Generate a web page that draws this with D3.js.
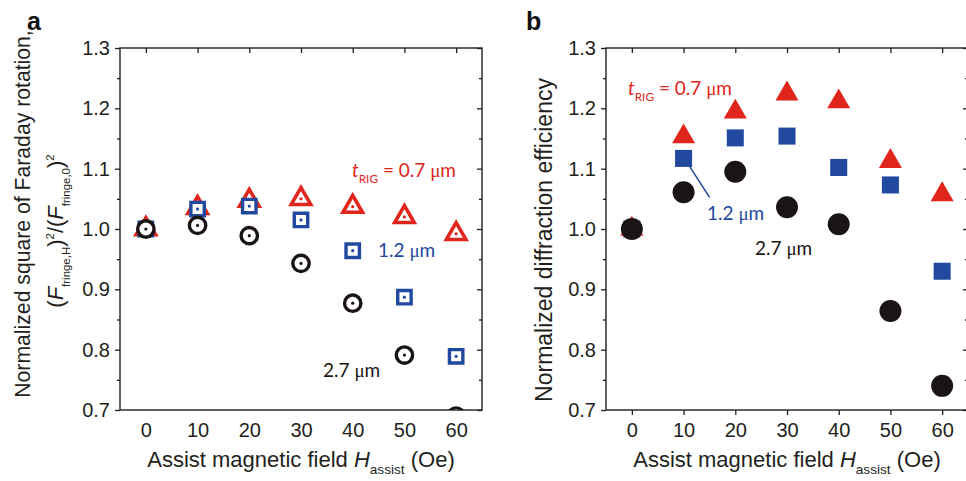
<!DOCTYPE html>
<html>
<head>
<meta charset="utf-8">
<script src="https://cdn.jsdelivr.net/npm/d3@7"></script>
<style>
body { margin: 0; background: #fff; }
svg { display: block; }
</style>
</head>
<body>
<div id="chart"></div>
<script>
var fieldOe = [0, 10, 20, 30, 40, 50, 60];
var xTicks = [0, 10, 20, 30, 40, 50, 60];
var yTicks = [0.7, 0.8, 0.9, 1.0, 1.1, 1.2, 1.3];
var yMinor = [0.75, 0.85, 0.95, 1.05, 1.15, 1.25];

// panel a: normalized square of Faraday rotation
var faraday07 = [1.0, 1.035, 1.047, 1.05, 1.037, 1.02, 0.992];
var faraday12 = [1.0, 1.033, 1.038, 1.015, 0.964, 0.887, 0.789];
var faraday27 = [1.0, 1.006, 0.989, 0.943, 0.877, 0.791, 0.69];

// panel b: normalized diffraction efficiency
var diffr07 = [1.0, 1.153, 1.194, 1.224, 1.211, 1.112, 1.057];
var diffr12 = [1.0, 1.117, 1.151, 1.154, 1.102, 1.073, 0.930];
var diffr27 = [1.0, 1.061, 1.095, 1.036, 1.008, 0.864, 0.740];

var red = "#e0251c", blue = "#2249a0", black = "#1a1414", axisCol = "#231f20";
var sans = "'Liberation Sans', Arial, sans-serif";
var labelFont = "Lato, 'Open Sans', sans-serif";
var titleSize = 22;

var W = 966, H = 481;
var svg = d3.select("#chart").append("svg").attr("width", W).attr("height", H);
svg.append("rect").attr("width", W).attr("height", H).attr("fill", "#fff");

// text with sub/superscripts, parts: {t, sub, sup, it, font, back}
function rich(sel, parts, fs, scale) {
    scale = scale || 0.62;
    parts.forEach(function(p) {
        var ts = sel.append("tspan").text(p.t);
        if (p.it) ts.style("font-style", "italic");
        if (p.font) ts.style("font-family", p.font);
        if (p.sub) ts.attr("dy", fs * 0.32).style("font-size", (fs * scale) + "px");
        if (p.sup) ts.attr("dy", -fs * 0.42).style("font-size", (fs * scale) + "px");
        if (p.back) ts.attr("dy", p.back * fs);
    });
    return sel;
}

function panel(o) {
    var x = d3.scaleLinear().domain([-5, 65]).range([o.left, o.right]);
    var y = d3.scaleLinear().domain([0.7, 1.3]).range([410, 48]);
    var g = svg.append("g");

    g.append("clipPath").attr("id", "clip" + o.id)
        .append("rect")
        .attr("x", o.left).attr("y", 48)
        .attr("width", o.right - o.left).attr("height", 362);

    function styleAxis(a) {
        a.select(".domain").remove();
        a.selectAll("line").attr("stroke", axisCol).attr("stroke-width", 1.3);
        a.selectAll("text").attr("fill", axisCol)
            .style("font-family", sans).style("font-size", "20px");
    }

    // left
    g.append("g").attr("transform", "translate(" + o.left + ",0)")
        .call(d3.axisLeft(y).tickValues(yTicks).tickSize(5).tickPadding(5).tickFormat(d3.format(".1f")))
        .call(styleAxis);
    g.append("g").attr("transform", "translate(" + o.left + ",0)")
        .call(d3.axisLeft(y).tickValues(yMinor).tickSize(3).tickFormat(""))
        .call(styleAxis);
    // right (inward)
    g.append("g").attr("transform", "translate(" + o.right + ",0)")
        .call(d3.axisLeft(y).tickValues(yTicks).tickSize(5).tickFormat(""))
        .call(styleAxis);
    g.append("g").attr("transform", "translate(" + o.right + ",0)")
        .call(d3.axisLeft(y).tickValues(yMinor).tickSize(3).tickFormat(""))
        .call(styleAxis);
    // top (inward)
    g.append("g").attr("transform", "translate(0,48)")
        .call(d3.axisBottom(x).tickValues(xTicks).tickSize(5).tickFormat(""))
        .call(styleAxis);
    // bottom
    g.append("g").attr("transform", "translate(0,410)")
        .call(d3.axisBottom(x).tickValues(xTicks).tickSize(o.bottomTick).tickPadding(13 - o.bottomTick).tickFormat(d3.format("d")))
        .call(styleAxis);

    g.append("rect")
        .attr("x", o.left).attr("y", 48)
        .attr("width", o.right - o.left).attr("height", 362)
        .attr("fill", "none").attr("stroke", axisCol).attr("stroke-width", 1.4);

    // markers
    var pts = g.append("g").attr("clip-path", "url(#clip" + o.id + ")");
    o.series.forEach(function(s) {
        var grp = pts.append("g");
        var sym = d3.symbol().type(s.type).size(s.size);
        grp.selectAll("path.m").data(s.values).enter()
            .append("path").attr("class", "m")
            .attr("transform", function(d, i) { return "translate(" + x(fieldOe[i]) + "," + y(d) + ")"; })
            .attr("d", sym)
            .attr("fill", o.open ? "#fff" : s.color)
            .attr("stroke", o.open ? s.color : "none")
            .attr("stroke-width", o.open ? s.sw : 0)
            .attr("stroke-linejoin", "miter");
        if (o.open) {
            grp.selectAll("circle.dot").data(s.values).enter()
                .append("circle").attr("class", "dot")
                .attr("cx", function(d, i) { return x(fieldOe[i]); })
                .attr("cy", function(d) { return y(d); })
                .attr("r", 1.6)
                .attr("fill", s.color);
        }
    });

    // x title
    rich(g.append("text")
        .attr("x", (o.left + o.right) / 2).attr("y", 467)
        .attr("text-anchor", "middle").attr("fill", axisCol)
        .style("font-family", sans).style("font-size", titleSize + "px"),
        [{t: "Assist magnetic field "}, {t: "H", it: true}, {t: "assist", sub: true}, {t: " (Oe)", back: -0.32}], titleSize);

    g.append("text")
        .attr("x", o.letterX).attr("y", 30)
        .attr("fill", "#111")
        .style("font-family", sans).style("font-size", "25px").style("font-weight", "bold")
        .text(o.letter);

    return {x: x, y: y, g: g};
}

function umLabel(g, xp, yp, color, parts) {
    rich(g.append("text").attr("x", xp).attr("y", yp).attr("fill", color)
        .style("font-family", labelFont).style("font-size", "19px"),
        parts.concat([{t: "μ", font: "'Liberation Serif', serif"}, {t: "m"}]), 19);
}

// ---- panel a
var pa = panel({
    id: "a", left: 120, right: 482, bottomTick: 0, open: true, letter: "a", letterX: 27,
    series: [
        {values: faraday07, type: d3.symbolTriangle, size: 165, color: red, sw: 3.6},
        {values: faraday12, type: d3.symbolSquare, size: 180, color: blue, sw: 3.4},
        {values: faraday27, type: d3.symbolCircle, size: 210, color: black, sw: 3.4}
    ]
});

rich(pa.g.append("text")
    .attr("transform", "translate(30,214) rotate(-90)")
    .attr("text-anchor", "middle").attr("fill", axisCol)
    .style("font-family", sans).style("font-size", "21.2px"),
    [{t: "Normalized square of Faraday rotation,"}], 21.2);

rich(pa.g.append("text")
    .attr("transform", "translate(63,231) rotate(-90)")
    .attr("text-anchor", "middle").attr("fill", axisCol)
    .style("font-family", sans).style("font-size", titleSize + "px"),
    [{t: "("}, {t: "F", it: true}, {t: "fringe,H", sub: true}, {t: ")", back: -0.32},
     {t: "2", sup: true}, {t: "/(", back: 0.42}, {t: "F", it: true}, {t: "fringe,0", sub: true},
     {t: ")", back: -0.32}, {t: "2", sup: true}], titleSize, 0.52);

umLabel(pa.g, 352, 177, red, [{t: "t", it: true}, {t: "RIG", sub: true}, {t: " = 0.7 ", back: -0.32}]);
umLabel(pa.g, 378, 257, blue, [{t: "1.2 "}]);
umLabel(pa.g, 323, 377, black, [{t: "2.7 "}]);

// ---- panel b
var pb = panel({
    id: "b", left: 606, right: 968, bottomTick: 5, open: false, letter: "b", letterX: 526,
    series: [
        {values: diffr07, type: d3.symbolTriangle, size: 230, color: red},
        {values: diffr12, type: d3.symbolSquare, size: 290, color: blue},
        {values: diffr27, type: d3.symbolCircle, size: 380, color: black}
    ]
});

rich(pb.g.append("text")
    .attr("transform", "translate(552,240) rotate(-90)")
    .attr("text-anchor", "middle").attr("fill", axisCol)
    .style("font-family", sans).style("font-size", "23px"),
    [{t: "Normalized diffraction efficiency"}], 23);

umLabel(pb.g, 628, 95, red, [{t: "t", it: true}, {t: "RIG", sub: true}, {t: " = 0.7 ", back: -0.32}]);

// leader line from the 10 Oe square to its label
pb.g.append("line")
    .attr("x1", pb.x(fieldOe[1]) + 6).attr("y1", pb.y(diffr12[1]) + 8)
    .attr("x2", pb.x(fieldOe[1]) + 26).attr("y2", pb.y(diffr12[1]) + 39)
    .attr("stroke", blue).attr("stroke-width", 1.5);

umLabel(pb.g, 707, 220, blue, [{t: "1.2 "}]);
umLabel(pb.g, 755, 255, black, [{t: "2.7 "}]);
</script>
</body>
</html>
